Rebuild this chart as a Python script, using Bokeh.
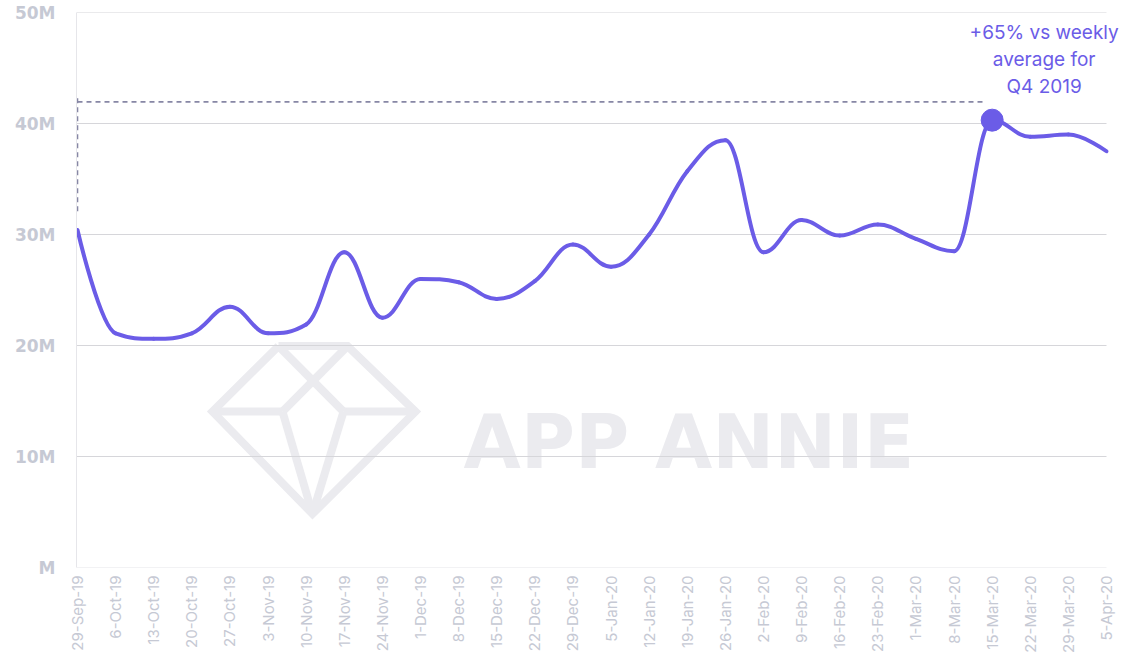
import math
from bokeh.plotting import figure
from bokeh.models import Range1d, FixedTicker, Label
from bokeh.core.properties import value
from bokeh.embed import file_html
from bokeh.resources import INLINE

# ---------------- data ----------------
weeks = ["29-Sep-19", "6-Oct-19", "13-Oct-19", "20-Oct-19", "27-Oct-19", "3-Nov-19",
         "10-Nov-19", "17-Nov-19", "24-Nov-19", "1-Dec-19", "8-Dec-19", "15-Dec-19",
         "22-Dec-19", "29-Dec-19", "5-Jan-20", "12-Jan-20", "19-Jan-20", "26-Jan-20",
         "2-Feb-20", "9-Feb-20", "16-Feb-20", "23-Feb-20", "1-Mar-20", "8-Mar-20",
         "15-Mar-20", "22-Mar-20", "29-Mar-20", "5-Apr-20"]
downloads_m = [30.4, 21.1, 20.6, 21.1, 23.5, 21.1,
               21.9, 28.4, 22.5, 26.0, 25.7, 24.2,
               25.8, 29.1, 27.1, 30.0, 35.7, 38.5,
               28.4, 31.3, 29.9, 30.9, 29.6, 28.5,
               40.3, 38.8, 39.0, 37.5]
highlight_week = "15-Mar-20"
y_ticks = [0, 10, 20, 30, 40, 50]
y_tick_labels = ["M", "10M", "20M", "30M", "40M", "50M"]
q4_avg_level = 41.95
bracket_low, bracket_high = 32.1, 42.6
annotation_lines = ["+65% vs weekly", "average for", "Q4 2019"]

PURPLE = "#6b5ce7"
LABEL_GREY = "#c6c9d4"
GRID = "#d6d6da"
WM = "#ebebef"
FONT = "Inter"

n = len(weeks)
xs = list(range(n))

# geometry: one week ~38.1px; small pad left, room on right for the annotation
W, H = 1126, 655
PX_PER_WEEK = (1106 - 77) / (n - 1)
x_start = -1.0 / PX_PER_WEEK
x_end = x_start + (W - 2 - 76) / PX_PER_WEEK

p = figure(width=W, height=H, output_backend="svg", toolbar_location=None,
           x_range=Range1d(x_start, x_end), y_range=Range1d(0, 50),
           min_border_left=76, min_border_right=2, min_border_top=12,
           min_border_bottom=84)
p.outline_line_color = None
p.background_fill_color = "white"
p.border_fill_color = "white"
p.xgrid.grid_line_color = None
p.ygrid.grid_line_color = None

p.yaxis.ticker = FixedTicker(ticks=y_ticks)
p.yaxis.major_label_overrides = {t: l for t, l in zip(y_ticks, y_tick_labels)}
p.yaxis.axis_line_color = "#e6e6ea"
p.yaxis.major_tick_line_color = None
p.yaxis.minor_tick_line_color = None
p.yaxis.major_tick_out = 0
p.yaxis.major_tick_in = 0
p.yaxis.major_label_standoff = 21
p.yaxis.major_label_text_font = "DejaVu Sans"
p.yaxis.major_label_text_font_size = "17px"
p.yaxis.major_label_text_color = LABEL_GREY
p.yaxis.major_label_text_font_style = "bold"

p.xaxis.ticker = FixedTicker(ticks=xs)
p.xaxis.major_label_overrides = {i: w for i, w in zip(xs, weeks)}
p.xaxis.major_label_orientation = math.pi / 2
p.xaxis.axis_line_color = None
p.xaxis.major_tick_line_color = None
p.xaxis.minor_tick_line_color = None
p.xaxis.major_tick_out = 0
p.xaxis.major_tick_in = 0
p.xaxis.major_label_standoff = 8
p.xaxis.major_label_text_font = FONT
p.xaxis.major_label_text_font_size = "15px"
p.xaxis.major_label_text_color = LABEL_GREY

# ---------------- watermark (decoration) ----------------
def ref_px(px, py):
    return (px - 77) / PX_PER_WEEK, (571 - py) / ((571 - 12) / 50)

TL, TR, R, B, L = ref_px(278, 348), ref_px(347, 348), ref_px(415, 414), ref_px(312, 517), ref_px(212, 414)
ML, MR = ref_px(282, 414), ref_px(343, 414)
segs = [[TL, TR, R, B, L, TL], [L, ML], [MR, R], [TL, MR], [TR, ML], [ML, B], [MR, B]]
wm = p.multi_line(xs=[[pt[0] for pt in s] for s in segs], ys=[[pt[1] for pt in s] for s in segs],
                  line_color=WM, line_width=8, line_join="miter", line_cap="butt")
wm.level = "image"
tx, ty = ref_px(463, 445)
wt = p.text(x=[tx], y=[ty], text=["APP ANNIE"], text_font=value("DejaVu Sans"),
            text_font_size="74px", text_font_style="bold", text_color=WM,
            text_baseline="alphabetic", text_align="left")
wt.level = "image"

# ---------------- grid lines (stop at the last week) ----------------
grid = p.segment(x0=[x_start] * (len(y_ticks) - 1), x1=[n - 1] * (len(y_ticks) - 1),
                 y0=y_ticks[1:], y1=y_ticks[1:], line_color=GRID, line_width=1)
grid.level = "underlay"
base = p.segment(x0=[x_start], x1=[n - 1], y0=[y_ticks[0]], y1=[y_ticks[0]],
                 line_color="#e6e6ea", line_width=1)
base.level = "underlay"

# ---------------- dashed reference bracket ----------------
hi = weeks.index(highlight_week)
p.line([0, hi - 0.15], [q4_avg_level, q4_avg_level], line_color="#8787a5",
       line_width=1.6, line_dash="5 4")
p.line([0, 0], [bracket_low, bracket_high], line_color="#8787a5",
       line_width=1.6, line_dash="5 4")

# ---------------- spline (Highcharts-style) ----------------
sm = 1.5
den = sm + 1
lc = [(x, y) for x, y in zip(xs, downloads_m)]
rc = [(x, y) for x, y in zip(xs, downloads_m)]
for i in range(1, n - 1):
    px, py = xs[i], downloads_m[i]
    lx, ly = xs[i - 1], downloads_m[i - 1]
    nx, ny = xs[i + 1], downloads_m[i + 1]
    lcx, lcy = (sm * px + lx) / den, (sm * py + ly) / den
    rcx, rcy = (sm * px + nx) / den, (sm * py + ny) / den
    corr = ((rcy - lcy) * (rcx - px)) / (rcx - lcx) + py - rcy
    lcy += corr
    rcy += corr
    if lcy > ly and lcy > py:
        lcy = max(ly, py); rcy = 2 * py - lcy
    elif lcy < ly and lcy < py:
        lcy = min(ly, py); rcy = 2 * py - lcy
    if rcy > ny and rcy > py:
        rcy = max(ny, py); lcy = 2 * py - rcy
    elif rcy < ny and rcy < py:
        rcy = min(ny, py); lcy = 2 * py - rcy
    lc[i] = (lcx, lcy)
    rc[i] = (rcx, rcy)

p.bezier(x0=xs[:-1], y0=downloads_m[:-1], x1=xs[1:], y1=downloads_m[1:],
         cx0=[c[0] for c in rc[:-1]], cy0=[c[1] for c in rc[:-1]],
         cx1=[c[0] for c in lc[1:]], cy1=[c[1] for c in lc[1:]],
         line_color=PURPLE, line_width=4, line_cap="round")

p.scatter([xs[hi]], [downloads_m[hi]], size=22, fill_color=PURPLE, line_color=PURPLE)

for k, txt in enumerate(annotation_lines):
    p.add_layout(Label(x=xs[hi], y=downloads_m[hi], x_offset=52, y_offset=88 - 27 * k,
                       text=txt, text_align="center", text_baseline="middle",
                       text_font=FONT, text_font_size="19px", text_color=PURPLE))

open("out.html", "w").write(file_html(p, INLINE))
